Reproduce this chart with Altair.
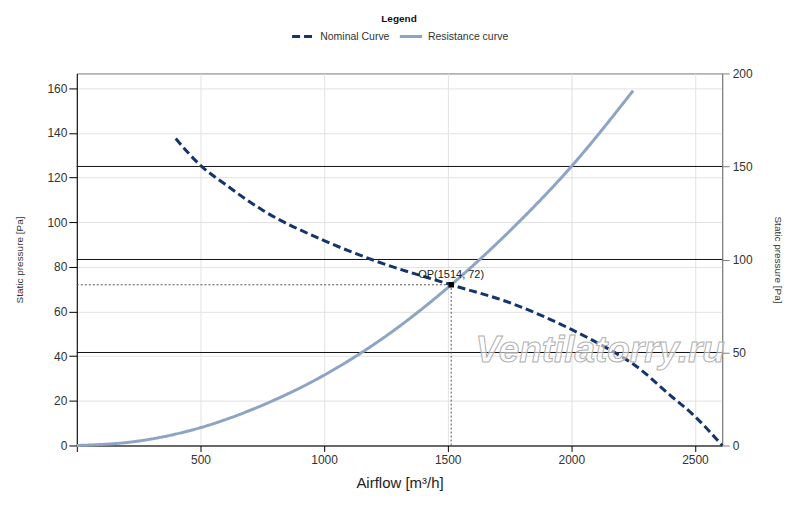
import altair as alt
import pandas as pd

# ---- data ----
nominal_flow = [400, 500, 600, 750, 1000, 1200, 1514, 1750, 2000, 2200, 2250, 2400, 2500, 2610]
nominal_pressure = [137.5, 125.5, 117, 105.5, 91.8, 83, 72, 64, 52, 40, 36.5, 22.5, 13, 0]
resistance_flow = [0, 250, 500, 750, 1000, 1250, 1514, 1750, 2000, 2250]
resistance_pressure = [0, 2, 8, 18, 31.5, 49, 72, 96, 125, 159]
op_flow = [1514]
op_pressure = [72]
op_label = ["OP(1514, 72)"]
x_ticks = [0, 500, 1000, 1500, 2000, 2500]
left_ticks = [0, 20, 40, 60, 80, 100, 120, 140, 160]
right_ticks = [0, 50, 100, 150, 200]
right_lines = [50, 100, 150]
series_names = ["Nominal Curve", "Resistance curve"]
watermark_text = ["Ventilatorry.ru"]
watermark_pos = [1612, 37.5]

FONT = "Liberation Sans"

lines_df = pd.concat([
    pd.DataFrame({"flow": nominal_flow, "pressure": nominal_pressure, "series": series_names[0], "order": range(len(nominal_flow))}),
    pd.DataFrame({"flow": resistance_flow, "pressure": resistance_pressure, "series": series_names[1], "order": range(len(resistance_flow))}),
])
op_df = pd.DataFrame({"flow": op_flow, "pressure": op_pressure, "label": op_label, "zero": [0]})
rl_df = pd.DataFrame({"rp": right_lines})
wm_df = pd.DataFrame({"flow": [watermark_pos[0]], "pressure": [watermark_pos[1]], "t": watermark_text})

xscale = alt.Scale(domain=[0, 2610], nice=False, zero=False)
yscale = alt.Scale(domain=[0, 166.67], nice=False)

xaxis = alt.Axis(values=x_ticks, title="Airflow [m³/h]", grid=True, gridColor="#e2e2e2",
                 labelExpr="datum.value == 0 ? '' : datum.label",
                 domainColor="#000", tickColor="#000", tickSize=6, labelPadding=3,
                 labelFontSize=12, labelColor="#333", titleFontSize=15, titleFontWeight="normal",
                 titleColor="#222", titlePadding=10, format="d")
yaxis = alt.Axis(values=left_ticks, title="Static pressure [Pa]", orient="left", grid=True,
                 gridColor="#e2e2e2", domainColor="#000", tickColor="#000", tickSize=8,
                 labelPadding=2, labelFontSize=12, labelColor="#333", titleFontSize=10,
                 titleFontWeight="normal", titleColor="#333", titlePadding=22)

X = alt.X("flow:Q", scale=xscale, axis=xaxis)
Y = alt.Y("pressure:Q", scale=yscale, axis=yaxis)

lines = alt.Chart(lines_df).mark_line(strokeWidth=3, interpolate="monotone").encode(
    x=X, y=Y, order="order:Q",
    color=alt.Color("series:N", scale=alt.Scale(domain=series_names, range=["#15346b", "#8ea4c4"]),
                    legend=alt.Legend(title="Legend")),
    strokeDash=alt.StrokeDash("series:N", scale=alt.Scale(domain=series_names, range=[[8, 4], [1, 0]]),
                              legend=alt.Legend(title="Legend")),
)

h_dot = alt.Chart(op_df).mark_rule(strokeDash=[2, 2], color="#555", strokeWidth=1).encode(
    x=alt.X("zero:Q", scale=xscale), x2="flow:Q", y=alt.Y("pressure:Q", scale=yscale))
v_dot = alt.Chart(op_df).mark_rule(strokeDash=[2, 2], color="#555", strokeWidth=1).encode(
    x=alt.X("flow:Q", scale=xscale), y=alt.Y("zero:Q", scale=yscale), y2="pressure:Q")
op_pt = alt.Chart(op_df).mark_square(size=30, color="#000", opacity=1).encode(x=X, y=Y)
op_txt = alt.Chart(op_df).mark_text(baseline="bottom", dy=-5, fontSize=11, color="#222", font=FONT).encode(
    x=X, y=Y, text="label:N")

wm = alt.Chart(wm_df).mark_text(font=FONT, fontSize=37, fontStyle="italic", fontWeight="bold",
                                fill="#ffffff", fillOpacity=0.55, stroke="#b0b0b0", strokeWidth=1,
                                align="left", baseline="alphabetic").encode(x=X, y=Y, text="t:N")

left = alt.layer(lines, h_dot, v_dot, op_pt, op_txt, wm)

right = alt.Chart(rl_df).mark_rule(color="#111", strokeWidth=1).encode(
    y=alt.Y("rp:Q", scale=alt.Scale(domain=[0, 200], nice=False),
            axis=alt.Axis(values=right_ticks, orient="right", title="Static pressure [Pa]", grid=False,
                          domainColor="#808080", tickColor="#808080", tickSize=7, labelPadding=3,
                          labelFontSize=12, labelColor="#333", titleFontSize=10, titleFontWeight="normal",
                          titleColor="#333", titlePadding=20)))

chart = alt.layer(right, left).resolve_scale(y="independent").properties(
    width=647, height=373,
    padding={"left": 69, "top": 65, "right": 70, "bottom": 45},
    autosize=alt.AutoSizeParams(type="none"),
).configure(font=FONT).configure_view(stroke="#777").configure_legend(
    orient="none", legendX=214, legendY=-60, direction="horizontal",
    titleFontWeight="bold", titleFontSize=10, titleColor="#111", titleAnchor="middle",
    labelFontSize=10.5, labelColor="#333", symbolType="stroke", symbolStrokeWidth=3, symbolSize=500,
    columnPadding=3, titlePadding=0
)

chart.save("out.html", embed_options={"renderer": "svg", "actions": False})
